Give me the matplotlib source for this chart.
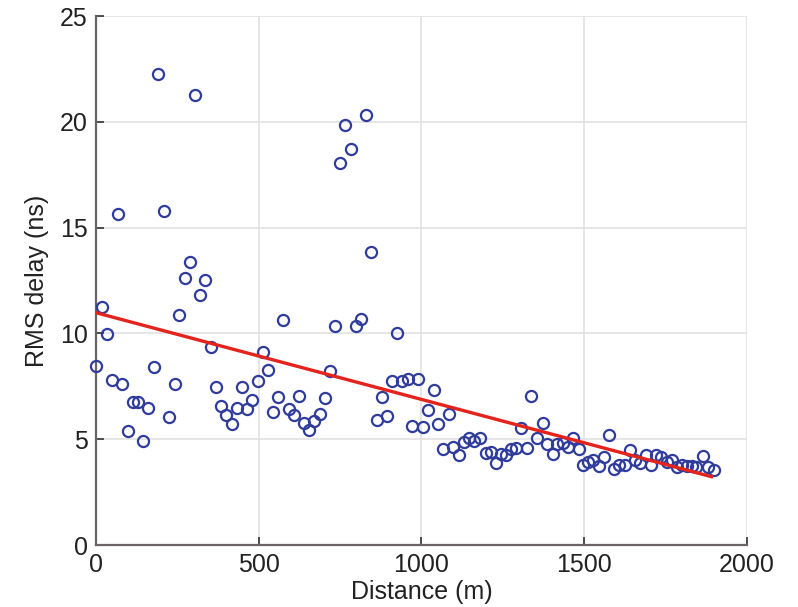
import matplotlib
matplotlib.use("Agg")
import matplotlib.pyplot as plt
import numpy as np

plt.rcParams['font.family'] = ['Liberation Sans', 'DejaVu Sans']

# measured points, distance (m) vs RMS delay (ns)
dist = np.array([
    0, 17, 35, 48, 67, 81, 99, 113, 130, 145, 161, 178, 192, 209, 223,
    243, 256, 272, 289, 304, 320, 336, 352, 369, 385, 399, 417, 432, 449,
    464, 480, 497, 512, 528, 543, 560, 575, 592, 608, 623, 639, 655, 671,
    687, 704, 719, 735, 750, 765, 782, 799, 814, 829, 845, 862, 878, 895,
    909, 926, 941, 959, 972, 990, 1006, 1021, 1037, 1052, 1067, 1084,
    1098, 1115, 1132, 1147, 1162, 1180, 1197, 1213, 1229, 1244, 1260,
    1275, 1290, 1306, 1323, 1338, 1354, 1372, 1385, 1403, 1417, 1436,
    1451, 1466, 1485, 1497, 1512, 1528, 1546, 1561, 1577, 1592, 1608,
    1625, 1641, 1656, 1671, 1689, 1705, 1722, 1737, 1753, 1770, 1784,
    1799, 1815, 1830, 1845, 1864, 1881, 1899])
rms = np.array([
    8.46, 11.26, 9.99, 7.8, 15.64, 7.59, 5.39, 6.76, 6.77, 4.9, 6.49, 8.43,
    22.26, 15.8, 6.06, 7.61, 10.85, 12.6, 13.39, 21.28, 11.8, 12.52, 9.37,
    7.48, 6.57, 6.16, 5.7, 6.49, 7.48, 6.41, 6.85, 7.77, 9.14, 8.27, 6.3,
    6.98, 10.63, 6.41, 6.14, 7.04, 5.75, 5.42, 5.85, 6.19, 6.96, 8.24,
    10.37, 18.04, 19.83, 18.7, 10.35, 10.7, 20.3, 13.83, 5.9, 7.0, 6.1,
    7.75, 10.0, 7.77, 7.86, 5.64, 7.83, 5.59, 6.38, 7.33, 5.72, 4.52, 6.18,
    4.65, 4.25, 4.88, 5.04, 4.93, 5.04, 4.36, 4.41, 3.86, 4.3, 4.25,
    4.52, 4.57, 5.51, 4.57, 7.04, 5.04, 5.75, 4.77, 4.29, 4.77, 4.83,
    4.65, 5.04, 4.52, 3.78, 3.94, 4.02, 3.73, 4.17, 5.18, 3.59, 3.78,
    3.78, 4.49, 4.02, 3.86, 4.25, 3.78, 4.25, 4.17, 3.94, 4.02, 3.67,
    3.78, 3.73, 3.73, 3.67, 4.2, 3.7, 3.54])

# linear fit line end points
fit_x = [0, 1891]
fit_y = [10.98, 3.23]

fig = plt.figure(figsize=(7.98, 6.07), dpi=100)
ax = fig.add_axes([0.1203, 0.1021, 0.8157, 0.8715])

ax.plot(dist, rms, 'o', mfc='none', mec='#2f3c9c', ms=8, mew=1.6,
        zorder=3, clip_on=False)
ax.plot(fit_x, fit_y, '-', color='#e3231c', lw=2.4, zorder=4)

ax.set_xlim(0, 2000)
ax.set_ylim(0, 25)
ax.set_xticks([0, 500, 1000, 1500, 2000])
ax.set_yticks([0, 5, 10, 15, 20, 25])
ax.grid(True, color='#e2e2e2', lw=1.2)
ax.set_axisbelow(True)

for s in ['top', 'right']:
    ax.spines[s].set_visible(False)
for s in ['left', 'bottom']:
    ax.spines[s].set_color('#6a6464')
    ax.spines[s].set_linewidth(1.6)

ax.tick_params(direction='in', length=6, width=1.2, color='#333333',
               labelsize=18, pad=6, labelcolor='#222222')

ax.set_xlabel('Distance (m)', fontsize=18, color='#222222', labelpad=2)
ax.set_ylabel('RMS delay (ns)', fontsize=18, color='#222222', labelpad=8)

fig.savefig('out.png', dpi=100)
